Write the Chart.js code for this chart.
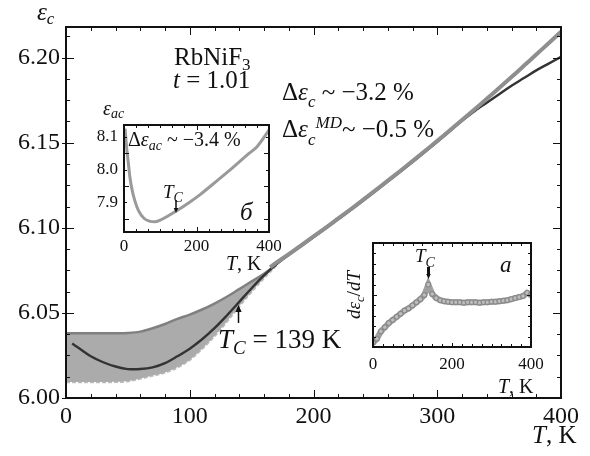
<!DOCTYPE html>
<html>
<head>
<meta charset="utf-8">
<script src="https://cdn.jsdelivr.net/npm/chart.js@4.4.1/dist/chart.umd.min.js"></script>
<style>
  html, body { margin: 0; padding: 0; background: #fff; }
  #wrap { position: relative; width: 590px; height: 456px; }
  canvas { position: absolute; }
</style>
</head>
<body>
<div id="wrap">
  <canvas id="mainChart" width="590" height="456" style="left:0;top:0"></canvas>
  <canvas id="insetB" width="200" height="165" style="left:88px;top:95px"></canvas>
  <canvas id="insetA" width="210" height="165" style="left:345px;top:232px"></canvas>
</div>
<script>
// main plot: eps_c(T)
const bandT     = [0, 10, 20, 30, 40, 50, 60, 70, 80, 90, 100, 110, 120, 130, 140, 150, 160, 170];
const bandUpper = [6.038, 6.038, 6.038, 6.038, 6.038, 6.0382, 6.039, 6.041, 6.0435, 6.0465, 6.049, 6.052, 6.0555, 6.0595, 6.064, 6.0685, 6.073, 6.0785];
const bandLower = [6.0094, 6.0094, 6.0094, 6.0094, 6.0095, 6.010, 6.0115, 6.0132, 6.015, 6.018, 6.0225, 6.029, 6.0365, 6.045, 6.054, 6.0625, 6.0705, 6.078];

const mdT   = [5, 10, 20, 30, 40, 50, 60, 70, 80, 90, 100, 110, 120, 130, 140, 150, 160, 170, 180, 190, 200, 220, 240, 260, 280, 300, 320, 330, 340, 350, 360, 370, 380, 390, 400];
const mdEps = [6.032, 6.0295, 6.0245, 6.021, 6.0185, 6.017, 6.017, 6.018, 6.0205, 6.0245, 6.029, 6.0345, 6.041, 6.0485, 6.0565, 6.0645, 6.072, 6.0785, 6.084, 6.0892, 6.0944, 6.105, 6.1159, 6.1272, 6.1387, 6.1506, 6.1628, 6.1685, 6.1735, 6.1785, 6.1835, 6.188, 6.1925, 6.1965, 6.2005];

const expT   = [165, 170, 180, 190, 200, 210, 220, 230, 240, 250, 260, 270, 280, 290, 300, 310, 320, 330, 340, 350, 360, 370, 380, 390, 400];
const expEps = [6.0768, 6.0795, 6.0845, 6.0897, 6.0949, 6.1001, 6.1055, 6.1109, 6.1164, 6.122, 6.1277, 6.1334, 6.1392, 6.1451, 6.1511, 6.1572, 6.1633, 6.1695, 6.1758, 6.1822, 6.1886, 6.1952, 6.2018, 6.2085, 6.2152];

const mainXTicks = [0, 100, 200, 300, 400];
const mainYTicks = [6.00, 6.05, 6.10, 6.15, 6.20];

// inset б: eps_ac(T)
const acT   = [3, 7, 11, 16, 22, 30, 40, 55, 70, 85, 100, 120, 143, 180, 210, 250, 300, 340, 367, 400];
const acEps = [8.125, 8.07, 8.03, 7.98, 7.94, 7.905, 7.875, 7.852, 7.843, 7.841, 7.846, 7.858, 7.873, 7.90, 7.924, 7.96, 8.006, 8.045, 8.07, 8.12];
const acXTicks = [0, 200, 400];
const acYTicks = [7.9, 8.0, 8.1];

// inset а: d eps_c / dT (arb. units)
const dT   = [0, 10, 20, 30, 40, 50, 60, 70, 80, 90, 100, 110, 120, 130, 140, 150, 160, 170, 180, 190, 200, 210, 220, 230, 240, 250, 260, 270, 280, 290, 300, 310, 320, 330, 340, 350, 360, 370, 380, 390, 400];
const dVal = [0.4, 0.8, 1.5, 1.9, 2.3, 2.6, 2.9, 3.2, 3.5, 3.7, 4.0, 4.3, 4.6, 5.0, 6.0, 5.1, 4.7, 4.5, 4.4, 4.35, 4.3, 4.3, 4.3, 4.25, 4.3, 4.3, 4.3, 4.25, 4.3, 4.3, 4.35, 4.35, 4.4, 4.45, 4.5, 4.6, 4.7, 4.8, 4.9, 5.2, 5.0];
const dXTicks = [0, 200, 400];

const SERIF = '"Liberation Serif", "DejaVu Serif", serif';

function pts(xs, ys) {
    return xs.map((t, i) => ({ x: t, y: ys[i] }));
}

// text with sub/superscripts: [text, size, italic, dy]
function rich(ctx, x, y, parts, measureOnly) {
    let x0 = x;
    for (const [t, size, it, dy] of parts) {
        ctx.font = (it ? 'italic ' : '') + size + 'px ' + SERIF;
        if (!measureOnly) ctx.fillText(t, x, y + (dy || 0));
        x += ctx.measureText(t).width;
    }
    return x - x0;
}

function arrow(ctx, x, y1, y2, head) {
    const dir = y2 > y1 ? 1 : -1;
    ctx.beginPath();
    ctx.moveTo(x, y1);
    ctx.lineTo(x, y2 - dir * head);
    ctx.stroke();
    ctx.beginPath();
    ctx.moveTo(x, y2);
    ctx.lineTo(x - head * 0.45, y2 - dir * head);
    ctx.lineTo(x + head * 0.45, y2 - dir * head);
    ctx.closePath();
    ctx.fill();
}

// box around the plot area with inward ticks on every side
function framePlugin(o) {
    return {
        id: 'frame',
        afterDraw(chart) {
            const { ctx, chartArea: a, scales: { x, y } } = chart;
            ctx.save();
            ctx.strokeStyle = '#111';
            ctx.lineWidth = 1;
            ctx.beginPath();
            const nx = Math.round((x.max - x.min) / o.xMinor);
            for (let i = 0; i <= nx; i++) {
                const v = x.min + i * o.xMinor;
                const px = Math.round(x.getPixelForValue(v)) + 0.5;
                const major = Math.abs(v / o.xMajor - Math.round(v / o.xMajor)) < 1e-6;
                const len = major ? o.major : o.minor;
                ctx.moveTo(px, a.bottom); ctx.lineTo(px, a.bottom - len);
                ctx.moveTo(px, a.top); ctx.lineTo(px, a.top + len);
            }
            for (let i = 0; ; i++) {
                const v = o.yStart + i * o.yMinor;
                if (v > y.max + 1e-9) break;
                const py = Math.round(y.getPixelForValue(v)) + 0.5;
                const major = Math.abs((v - o.yStart) / o.yMajor - Math.round((v - o.yStart) / o.yMajor)) < 1e-6;
                const len = major ? o.major : o.minor;
                ctx.moveTo(a.left - (major ? o.out : 0), py); ctx.lineTo(a.left + len, py);
                ctx.moveTo(a.right, py); ctx.lineTo(a.right - len, py);
            }
            ctx.stroke();
            ctx.lineWidth = o.lw;
            ctx.strokeRect(a.left, a.top, a.right - a.left, a.bottom - a.top);
            ctx.restore();
        }
    };
}

function textPlugin(fn) {
    return {
        id: 'texts',
        afterDraw(chart) {
            const ctx = chart.ctx;
            ctx.save();
            ctx.fillStyle = '#111';
            ctx.strokeStyle = '#111';
            ctx.textBaseline = 'alphabetic';
            ctx.textAlign = 'left';
            fn(ctx);
            ctx.restore();
        }
    };
}

function axis(min, max, ticks, fontSize, fixSize, isX, show, fmt, pad) {
    return {
        type: 'linear',
        min: min,
        max: max,
        grid: { display: false, drawTicks: false },
        border: { display: false },
        ticks: {
            display: show,
            color: '#111',
            padding: pad,
            font: { family: SERIF, size: fontSize },
            callback: fmt
        },
        afterBuildTicks: s => { s.ticks = ticks.map(v => ({ value: v })); },
        afterFit: s => { if (isX) s.height = fixSize; else s.width = fixSize; }
    };
}

const base = {
    responsive: false,
    animation: false,
    events: [],
    plugins: { legend: { display: false }, tooltip: { enabled: false } }
};

const smooth = { pointRadius: 0, tension: 0.35, fill: false };

// main chart
new Chart(document.getElementById('mainChart'), {
    type: 'line',
    data: {
        datasets: [
            { ...smooth, data: pts(expT, expEps), borderColor: '#8e8e8e', borderWidth: 4 },
            { ...smooth, data: pts(mdT, mdEps), borderColor: '#333', borderWidth: 2.4 },
            { ...smooth, data: pts(bandT, bandUpper), borderColor: '#808080', borderWidth: 2.5, fill: '+1', backgroundColor: '#ababab' },
            { ...smooth, data: pts(bandT, bandLower), borderColor: '#bdbdbd', borderWidth: 2.5, borderDash: [4, 2] }
        ]
    },
    options: {
        ...base,
        layout: { padding: { left: 0, right: 29, top: 27, bottom: 0 } },
        scales: {
            x: axis(0, 400, mainXTicks, 24, 58, true, true, v => String(v), 4),
            y: axis(6.0, 6.218, mainYTicks, 24, 66, false, true, v => v.toFixed(2), 6)
        }
    },
    plugins: [
        framePlugin({ xMinor: 20, xMajor: 100, yStart: 6.0, yMinor: 0.0125, yMajor: 0.05, major: 8, minor: 4, out: 4, lw: 2 }),
        textPlugin(ctx => {
            rich(ctx, 37, 20, [['ε', 25, 1], ['c', 17, 1, 4]]);
            rich(ctx, 174, 65, [['RbNiF', 25, 0], ['3', 17, 0, 5]]);
            rich(ctx, 173, 88, [['t', 25, 1], [' = 1.01', 25, 0]]);
            rich(ctx, 282, 100, [['Δ', 25, 0], ['ε', 25, 1], ['c', 17, 1, 7], [' ~ −3.2 %', 25, 0]]);
            rich(ctx, 282, 137, [['Δ', 25, 0], ['ε', 25, 1], ['c', 17, 1, 8], ['MD', 17, 1, -9], ['~ −0.5 %', 25, 0]]);
            rich(ctx, 218, 348, [['T', 27, 1], ['C', 19, 1, 6], [' = 139 K', 27, 0]]);
            rich(ctx, 226, 270, [['T', 20, 1], [', K', 20, 0]]);
            rich(ctx, 532, 443, [['T', 25, 1], [', K', 25, 0]]);
            ctx.lineWidth = 1.5;
            arrow(ctx, 238.5, 323, 305, 7);
        })
    ]
});

// inset б
new Chart(document.getElementById('insetB'), {
    type: 'line',
    data: {
        datasets: [
            { data: pts(acT, acEps), borderColor: '#9a9a9a', borderWidth: 3, pointRadius: 0, cubicInterpolationMode: 'monotone', fill: false }
        ]
    },
    options: {
        ...base,
        layout: { padding: { left: 0, right: 19, top: 30, bottom: 0 } },
        scales: {
            x: axis(0, 400, acXTicks, 17, 28, true, true, v => String(v), 4),
            y: axis(7.81, 8.136, acYTicks, 17, 36, false, true, v => v.toFixed(1), 6)
        }
    },
    plugins: [
        framePlugin({ xMinor: 100 / 3, xMajor: 200, yStart: 7.85, yMinor: 0.05, yMajor: 0.1, major: 5, minor: 3, out: 0, lw: 2 }),
        textPlugin(ctx => {
            rich(ctx, 15, 20, [['ε', 20, 1], ['ac', 14, 1, 3]]);
            rich(ctx, 40, 51, [['Δ', 20, 0], ['ε', 20, 1], ['ac', 14, 1, 4], [' ~ −3.4 %', 20, 0]]);
            rich(ctx, 75, 103, [['T', 19, 1], ['C', 14, 1, 4]]);
            rich(ctx, 152, 125, [['б', 25, 1]]);
            ctx.lineWidth = 1.5;
            arrow(ctx, 88, 105, 118, 5);
        })
    ]
});

// inset а
new Chart(document.getElementById('insetA'), {
    type: 'line',
    data: {
        datasets: [
            { data: pts(dT, dVal), borderColor: 'rgba(150,150,150,0.9)', borderWidth: 6, pointRadius: 2.4, pointBorderWidth: 1.2, pointBorderColor: '#8a8a8a', pointBackgroundColor: '#bdbdbd', fill: false }
        ]
    },
    options: {
        ...base,
        layout: { padding: { left: 0, right: 24, top: 11, bottom: 0 } },
        scales: {
            x: axis(0, 400, dXTicks, 17, 50, true, true, v => String(v), 7),
            y: axis(0, 10, [], 16, 28, false, false, v => '', 0)
        }
    },
    plugins: [
        framePlugin({ xMinor: 25, xMajor: 200, yStart: 0, yMinor: 1, yMajor: 5, major: 4, minor: 3, out: 0, lw: 2 }),
        textPlugin(ctx => {
            rich(ctx, 70, 30, [['T', 19, 1], ['C', 14, 1, 5]]);
            rich(ctx, 155, 40, [['а', 23, 1]]);
            rich(ctx, 153, 161, [['T', 20, 1], [', K', 20, 0]]);
            ctx.lineWidth = 3;
            arrow(ctx, 83.5, 35, 47, 5);
            const lbl = [['d', 19, 1], ['ε', 19, 1], ['c', 13, 1, 4], ['/', 19, 0], ['dT', 19, 1]];
            const w = rich(ctx, 0, 0, lbl, true);
            ctx.translate(15, 63 + w / 2);
            ctx.rotate(-Math.PI / 2);
            rich(ctx, 0, 0, lbl);
        })
    ]
});
</script>
</body>
</html>
